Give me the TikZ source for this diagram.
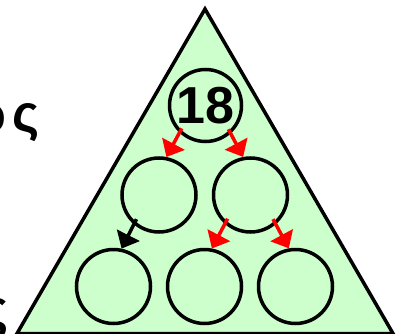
\documentclass[tikz,border=0pt]{standalone}
\usepackage{fontspec}
\setmainfont{Liberation Sans}
\usetikzlibrary{arrows.meta,calc}
\definecolor{leaf}{RGB}{204,255,204}
\begin{document}
\begin{tikzpicture}[x=1pt,y=-1pt,
  ball/.style={circle,draw,line width=3.5pt,minimum size=74pt,inner sep=0pt},
  link/.style={line width=3.5pt,-{Triangle[width=25pt,length=15pt]}},
  big/.style={font=\fontsize{52}{52}\selectfont\bfseries,inner sep=0pt}]
\useasboundingbox (0,0) rectangle (401,334);
% green triangle
\draw[line width=3.5pt,fill=leaf,line join=miter] (205,9) -- (393,333.5) -- (17,333.5) -- cycle;
% circles
\node[ball,minimum size=72pt,font=\fontsize{52}{52}\selectfont\bfseries] (top) at (205.5,105.5) {18};
\node[ball] (ml) at (159,195) {};
\node[ball] (mr) at (250.5,195) {};
\node[ball] (bl) at (113.5,286.5) {};
\node[ball] (bm) at (204.5,286.5) {};
\node[ball] (br) at (295.5,286.5) {};
% arrows
\draw[link,red] ($(top)+(224:33pt)$) -- (ml.79);
\draw[link,red] ($(top)+(314:33pt)$) -- (mr.101);
\draw[link,black] ($(ml)+(227:33pt)$) -- (bl.78);
\draw[link,red] ($(mr)+(226:33pt)$) -- (bm.79);
\draw[link,red] ($(mr)+(313:33pt)$) -- (br.100);
% text at the left
\node[big,anchor=base east] (sig) at (39.5,131.5) {ς};
\node[big,anchor=base east] (om) at ([xshift=-5pt]sig.base west) {ω};
\node[big,anchor=base east] (s) at (9,326.5) {ς};
\end{tikzpicture}
\end{document}
